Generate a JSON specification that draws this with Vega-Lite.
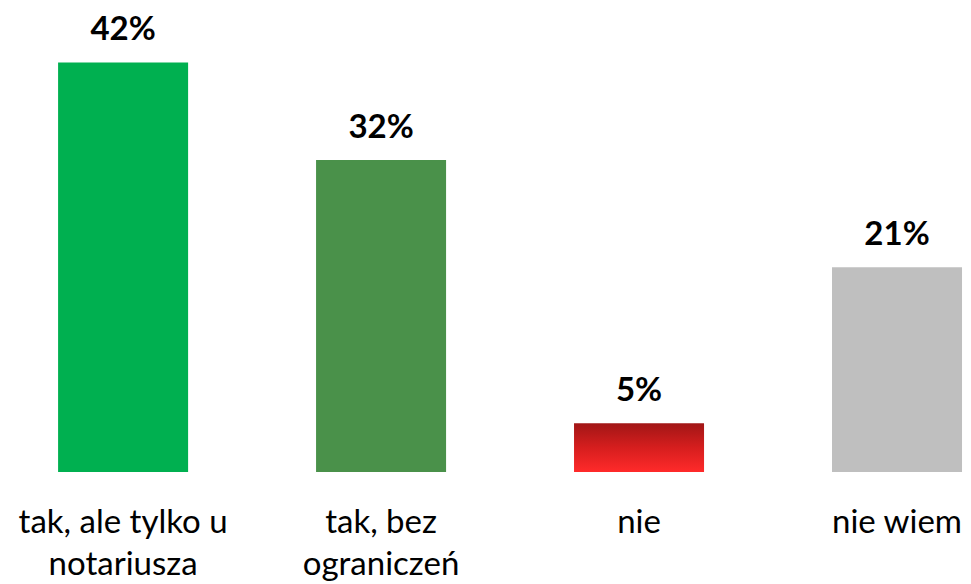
{
  "$schema": "https://vega.github.io/schema/vega-lite/v6.json",
  "autosize": {"type": "none"},
  "width": 971,
  "height": 411,
  "padding": {"top": 61, "left": 0, "right": 0, "bottom": 112},
  "background": "white",
  "config": {"view": {"stroke": null}, "font": "Lato"},
  "data": {"values": [
    {"kat": "tak, ale tylko u notariusza", "val": 0.42},
    {"kat": "tak, bez ograniczeń", "val": 0.32},
    {"kat": "nie", "val": 0.05},
    {"kat": "nie wiem", "val": 0.21}
  ]},
  "encoding": {
    "x": {
      "field": "kat", "type": "nominal", "sort": null,
      "scale": {"domain": ["tak, ale tylko u notariusza", "tak, bez ograniczeń", "nie", "nie wiem"], "paddingInner": 0.496, "paddingOuter": 0.13, "align": 0.866},
      "axis": {
        "title": null, "domain": false, "ticks": false, "labelAngle": 0,
        "labelFontSize": 33, "labelColor": "#000000", "labelFont": "Lato",
        "labelPadding": 34, "labelLineHeight": 42, "labelLimit": 0,
        "labelExpr": "datum.value == 'tak, ale tylko u notariusza' ? ['tak, ale tylko u', 'notariusza'] : datum.value == 'tak, bez ograniczeń' ? ['tak, bez', 'ograniczeń'] : datum.value"
      }
    },
    "y": {
      "field": "val", "type": "quantitative",
      "scale": {"domain": [0, 0.4215], "nice": false},
      "axis": null
    }
  },
  "layer": [
    {
      "transform": [{"filter": "datum.kat != 'nie'"}],
      "mark": {"type": "bar"},
      "encoding": {
        "color": {
          "field": "kat", "type": "nominal", "legend": null,
          "scale": {"domain": ["tak, ale tylko u notariusza", "tak, bez ograniczeń", "nie wiem"], "range": ["#00B050", "#4A914A", "#BFBFBF"]}
        }
      }
    },
    {
      "transform": [{"filter": "datum.kat == 'nie'"}],
      "mark": {"type": "bar", "color": {"gradient": "linear", "x1": 0, "y1": 0, "x2": 0, "y2": 1, "stops": [{"offset": 0, "color": "#A11616"}, {"offset": 0.5, "color": "#D61E1E"}, {"offset": 1, "color": "#FF2A2A"}]}}
    },
    {
      "mark": {"type": "text", "baseline": "alphabetic", "dy": -22, "fontSize": 33, "fontWeight": "bold", "font": "Lato", "color": "#000000"},
      "encoding": {"text": {"field": "val", "type": "quantitative", "format": ".0%"}}
    }
  ]
}
